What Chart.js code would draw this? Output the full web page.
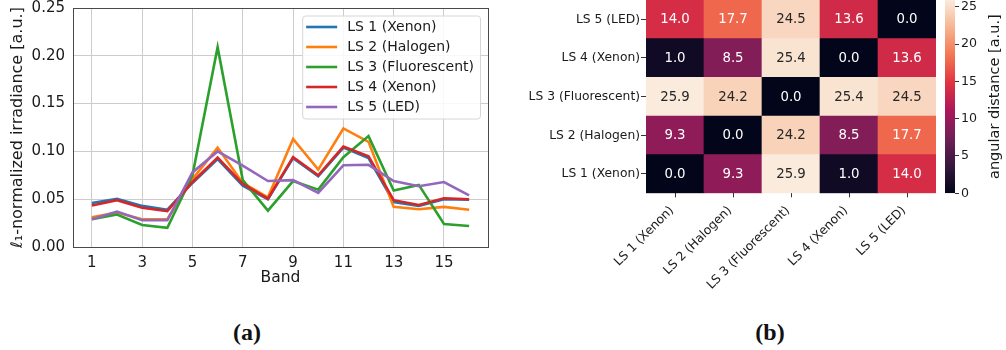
<!DOCTYPE html>
<html><head><meta charset="utf-8">
<script src="https://cdn.jsdelivr.net/npm/chart.js@4.4.1/dist/chart.umd.min.js"></script>
<style>
html,body{margin:0;padding:0;background:#fff;}
#wrap{position:relative;width:1006px;height:350px;overflow:hidden;background:#fff;}
canvas{position:absolute;}
.cap{position:absolute;font-family:"Liberation Serif","DejaVu Serif",serif;font-weight:bold;font-size:24px;color:#111;width:80px;text-align:center;line-height:28px;}
</style></head><body>
<div id="wrap">
<canvas id="c1" width="500" height="290" style="left:0;top:0"></canvas>
<canvas id="c2" width="440" height="290" style="left:500px;top:0"></canvas>
<canvas id="c3" width="66" height="290" style="left:940px;top:0"></canvas>
<div class="cap" style="left:207px;top:318px">(a)</div>
<div class="cap" style="left:730px;top:318px">(b)</div>
</div>
<script>
// ---------- data ----------
const bands = [1,2,3,4,5,6,7,8,9,10,11,12,13,14,15,16];
const xTickValues = [1,3,5,7,9,11,13,15];
const seriesNames = ['LS 1 (Xenon)','LS 2 (Halogen)','LS 3 (Fluorescent)','LS 4 (Xenon)','LS 5 (LED)'];
const ls1Xenon = [0.046,0.0505,0.043,0.039,0.067,0.092,0.064,0.050,0.093,0.074,0.104,0.093,0.047,0.043,0.050,0.0495];
const ls2Halogen = [0.031,0.036,0.029,0.029,0.071,0.104,0.067,0.052,0.113,0.081,0.124,0.110,0.042,0.0395,0.042,0.039];
const ls3Fluorescent = [0.029,0.034,0.023,0.020,0.075,0.209,0.070,0.038,0.069,0.060,0.094,0.116,0.059,0.065,0.024,0.022];
const ls4Xenon = [0.0435,0.049,0.041,0.0375,0.068,0.0935,0.066,0.0505,0.094,0.075,0.105,0.095,0.049,0.044,0.051,0.050];
const ls5LED = [0.029,0.037,0.028,0.028,0.078,0.100,0.085,0.069,0.070,0.0565,0.0855,0.086,0.069,0.0635,0.068,0.054];
const yTickStep = 0.05;

// heatmap: rows from bottom (LS 1) to top (LS 5), columns LS 1..LS 5
const distLS1 = [0.0, 9.3, 25.9, 1.0, 14.0];
const distLS2 = [9.3, 0.0, 24.2, 8.5, 17.7];
const distLS3 = [25.9, 24.2, 0.0, 25.4, 24.5];
const distLS4 = [1.0, 8.5, 25.4, 0.0, 13.6];
const distLS5 = [14.0, 17.7, 24.5, 13.6, 0.0];
const colorbarTicks = [0,5,10,15,20,25];
const colorbarMax = 25.9;

// ---------- styles ----------
const lineColors = ['#1f77b4','#ff7f0e','#2ca02c','#d62728','#9467bd'];
const rocketStops = [[0,[3,5,26]],[1/7,[53,25,62]],[2/7,[112,31,87]],[3/7,[173,23,89]],[4/7,[225,51,66]],[5/7,[243,118,81]],[6/7,[246,180,143]],[1,[250,235,221]]];
function rocketRGB(t){
  t=Math.max(0,Math.min(1,t));
  for(let i=1;i<rocketStops.length;i++){
    const [p1,c1]=rocketStops[i-1],[p2,c2]=rocketStops[i];
    if(t<=p2){const f=(t-p1)/(p2-p1);return c1.map((c,k)=>Math.round(c+(c2[k]-c)*f));}
  }
  return rocketStops[rocketStops.length-1][1];
}
const rgbStr = c=>`rgb(${c[0]},${c[1]},${c[2]})`;
function relLum(c){
  const l=c.map(v=>{v/=255;return v<=0.03928?v/12.92:Math.pow((v+0.055)/1.055,2.4);});
  return 0.2126*l[0]+0.7152*l[1]+0.0722*l[2];
}
Chart.defaults.font.family = "'DejaVu Sans', sans-serif";
Chart.defaults.color = '#1a1a1a';
const zeroPad = s=>{s.paddingTop=0;s.paddingBottom=0;s.paddingLeft=0;s.paddingRight=0;};

// ---------- left: line chart ----------
const seriesList = [ls1Xenon, ls2Halogen, ls3Fluorescent, ls4Xenon, ls5LED];
const framePlugin = {id:'frame', afterDraw(chart){
  const {ctx, chartArea:a}=chart; ctx.save();
  ctx.strokeStyle='#4a4a4a'; ctx.lineWidth=1;
  const l=Math.round(a.left)+0.5, t=Math.round(a.top)+0.5, r=Math.round(a.right)+0.5, b=Math.round(a.bottom)+0.5;
  ctx.strokeRect(l,t,r-l,b-t); ctx.restore();
}};
const legendPlugin = {id:'innerLegend', afterDatasetsDraw(chart){
  const {ctx, chartArea:a}=chart; ctx.save();
  ctx.font = "14px 'DejaVu Sans'";
  const names = chart.data.datasets.map(d=>d.label);
  const tw = Math.max(...names.map(n=>ctx.measureText(n).width));
  const lineLen=31, gap=10, padL=4, padR=6, rowH=20;
  const right=a.right-8, top=a.top+7.5;
  const w=padL+lineLen+gap+tw+padR, h=rowH*names.length+3;
  const left=right-w;
  ctx.beginPath();
  if(ctx.roundRect) ctx.roundRect(left+0.5,top+0.5,w,h,3); else ctx.rect(left+0.5,top+0.5,w,h);
  ctx.fillStyle='rgba(255,255,255,0.85)'; ctx.fill();
  ctx.strokeStyle='#d6d6d6'; ctx.lineWidth=1; ctx.stroke();
  chart.data.datasets.forEach((d,i)=>{
    const y=top+11.5+i*rowH;
    ctx.strokeStyle=d.borderColor; ctx.lineWidth=2.6;
    ctx.beginPath(); ctx.moveTo(left+padL,y); ctx.lineTo(left+padL+lineLen,y); ctx.stroke();
    ctx.fillStyle='#1a1a1a'; ctx.textBaseline='middle'; ctx.textAlign='left';
    ctx.fillText(d.label,left+padL+lineLen+gap,y+0.5);
  });
  ctx.restore();
}};
new Chart(document.getElementById('c1'),{
  type:'line',
  data:{datasets: seriesList.map((s,i)=>({
    label: seriesNames[i],
    data: bands.map((b,j)=>({x:b,y:s[j]})),
    borderColor: lineColors[i], backgroundColor: lineColors[i],
    borderWidth: 2.6, pointRadius:0, tension:0, fill:false, order: 5-i
  }))},
  options:{
    responsive:false, animation:false, events:[],
    layout:{padding:{left:0,right:12,top:8,bottom:0}},
    plugins:{legend:{display:false}, tooltip:{enabled:false}},
    scales:{
      x:{type:'linear', min:0.25, max:16.75,
        afterBuildTicks: s=>{s.ticks = xTickValues.map(v=>({value:v}));},
        afterFit: s=>{s.height=43; zeroPad(s);},
        grid:{color:'#cccccc', lineWidth:1, drawTicks:false},
        border:{display:false},
        ticks:{autoSkip:false, maxRotation:0, padding:7, font:{size:15}, callback:v=>String(v)},
        title:{display:true, text:'Band', font:{size:15.5}, padding:{top:0,bottom:3}}
      },
      y:{min:0, max:0.25,
        afterFit: s=>{s.width=73; zeroPad(s);},
        grid:{color:'#cccccc', lineWidth:1, drawTicks:false},
        border:{display:false},
        ticks:{stepSize:yTickStep, padding:8, font:{size:15}, callback:v=>Number(v).toFixed(2)},
        title:{display:true, text:'ℓ₁-normalized irradiance [a.u.]', font:{size:16}, padding:{top:8,bottom:0}}
      }
    }
  },
  plugins:[legendPlugin, framePlugin]
});

// ---------- right: heatmap ----------
const heatRows = [distLS1, distLS2, distLS3, distLS4, distLS5];
const cellTextPlugin = {id:'cellText', afterDatasetsDraw(chart){
  const ctx=chart.ctx; ctx.save();
  ctx.font="13.3px 'DejaVu Sans'"; ctx.textAlign='center'; ctx.textBaseline='middle';
  chart.data.datasets.forEach((ds,di)=>{
    const meta=chart.getDatasetMeta(di);
    meta.data.forEach((el,j)=>{
      const v=ds.values[j];
      const c=rocketRGB(v/colorbarMax);
      ctx.fillStyle = relLum(c)>0.408 ? '#262626' : '#ffffff';
      ctx.fillText(v.toFixed(1), el.x, (el.y+el.base)/2+0.5);
    });
  });
  ctx.restore();
}};
new Chart(document.getElementById('c2'),{
  type:'bar',
  data:{labels: seriesNames, datasets: heatRows.map((row,r)=>({
    label: seriesNames[r], values: row,
    data: row.map(()=>1),
    backgroundColor: row.map(v=>rgbStr(rocketRGB(v/colorbarMax))),
    borderWidth:0, barPercentage:1, categoryPercentage:1, yAxisID:'y'
  }))},
  options:{
    responsive:false, animation:false, events:[],
    layout:{padding:{left:0,right:4,top:0,bottom:0}},
    plugins:{legend:{display:false}, tooltip:{enabled:false}},
    scales:{
      x:{stacked:true,
        grid:{display:true, drawOnChartArea:false, drawTicks:true, tickLength:4, offset:false, color:'#333', lineWidth:1},
        border:{display:false},
        ticks:{minRotation:45, maxRotation:45, autoSkip:false, padding:6, labelOffset:-3, font:{size:12.3}},
        afterFit: s=>{s.height=290-193.3; zeroPad(s);}
      },
      y:{stacked:true, min:0, max:5, display:false},
      yl:{type:'category', labels: seriesNames, reverse:true, position:'left', offset:true,
        grid:{display:true, drawOnChartArea:false, drawTicks:true, tickLength:5, offset:false, color:'#333', lineWidth:1},
        border:{display:false},
        ticks:{padding:1, font:{size:12.3}},
        afterFit: s=>{s.width=146; zeroPad(s);}
      }
    }
  },
  plugins:[cellTextPlugin]
});

// ---------- colorbar ----------
const cbTitlePlugin = {id:'cbTitle', afterDraw(chart){
  const {ctx, chartArea:a}=chart; ctx.save();
  ctx.font="14.5px 'DejaVu Sans'"; ctx.fillStyle='#1a1a1a'; ctx.textAlign='center'; ctx.textBaseline='middle';
  ctx.translate(55,(a.top+a.bottom)/2); ctx.rotate(-Math.PI/2);
  ctx.fillText('angular distance [a.u.]',0,0); ctx.restore();
}};
new Chart(document.getElementById('c3'),{
  type:'bar',
  data:{labels:[''], datasets:[{
    data:[[0,colorbarMax]],
    backgroundColor:(c)=>{
      const a=c.chart.chartArea; if(!a) return '#000';
      const g=c.chart.ctx.createLinearGradient(0,a.bottom,0,a.top);
      for(let i=0;i<=40;i++){const t=i/40; g.addColorStop(t,rgbStr(rocketRGB(t)));}
      return g;
    },
    borderWidth:0, barPercentage:1, categoryPercentage:1
  }]},
  options:{
    responsive:false, animation:false, events:[],
    layout:{padding:{left:5,right:0,top:0,bottom:290-193.3}},
    plugins:{legend:{display:false}, tooltip:{enabled:false}},
    scales:{
      x:{display:false},
      y:{position:'right', min:0, max:colorbarMax,
        afterBuildTicks: s=>{s.ticks = colorbarTicks.map(v=>({value:v}));},
        grid:{display:true, drawOnChartArea:false, drawTicks:true, tickLength:4, color:'#333'},
        border:{display:false},
        ticks:{padding:2, font:{size:12.6}},
        afterFit: s=>{s.width=51; zeroPad(s);}
      }
    }
  },
  plugins:[cbTitlePlugin]
});
</script>
</body></html>
